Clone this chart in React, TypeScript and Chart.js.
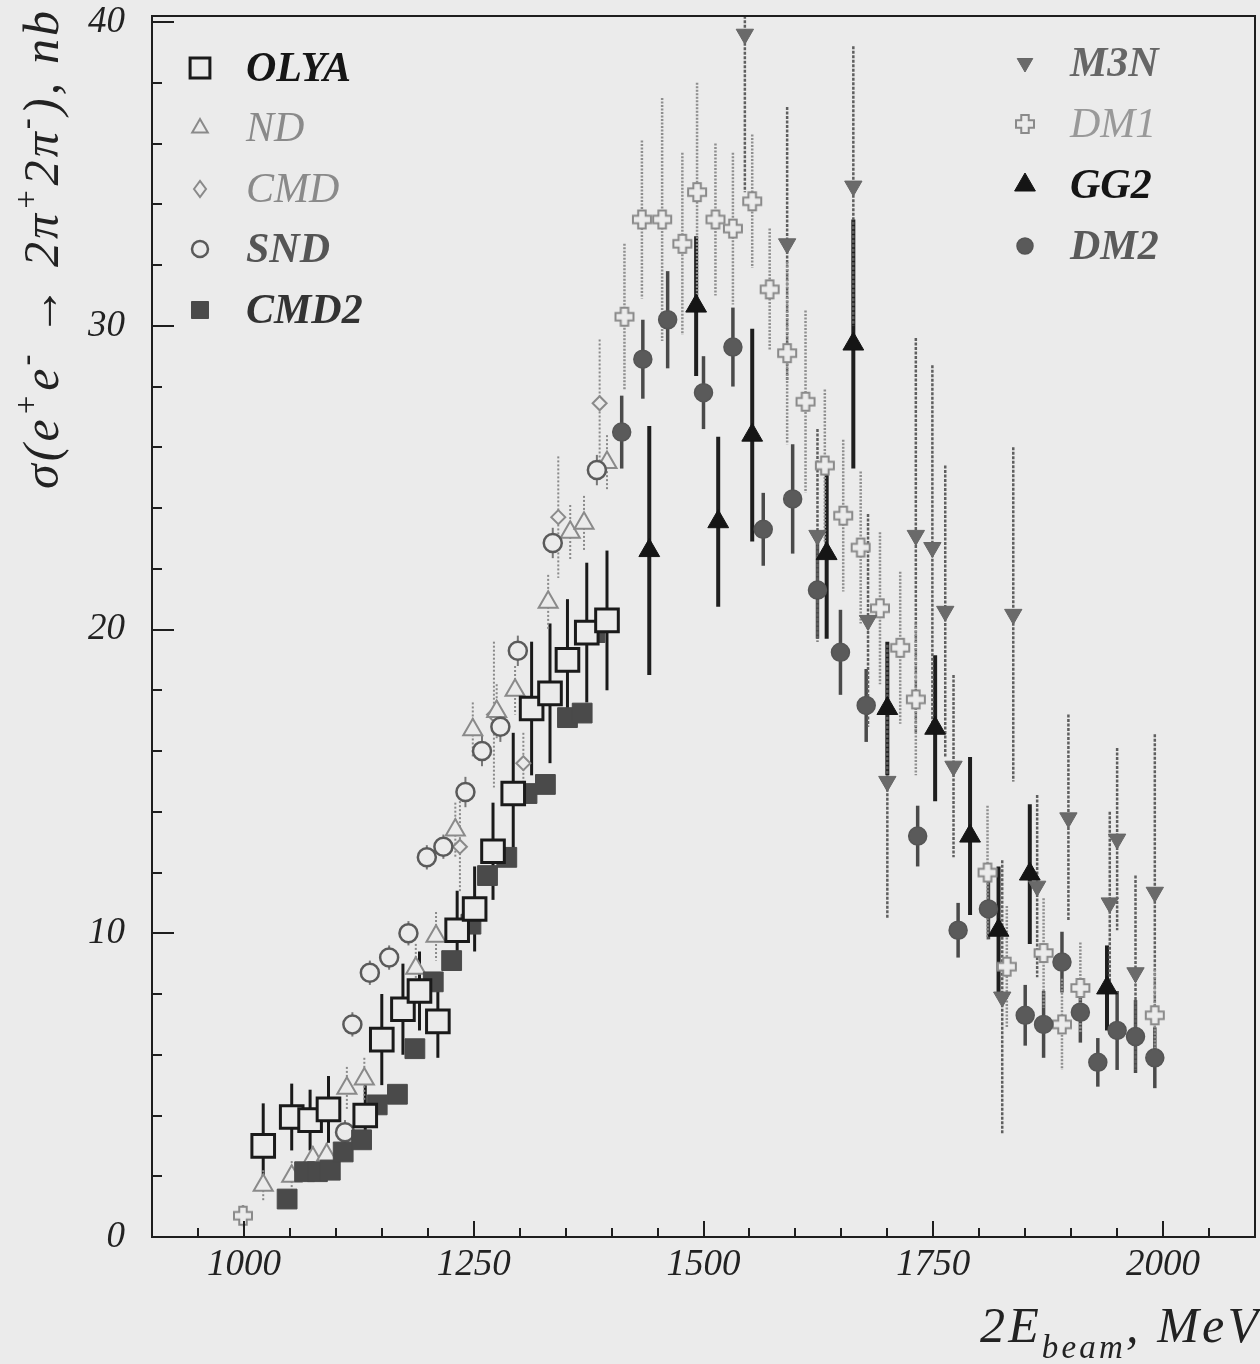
import React, { useEffect, useRef } from "react";
import { Chart, registerables } from "chart.js";

Chart.register(...registerables);

const BG = "#ebebeb";
const FONT = "'Liberation Serif', 'Times New Roman', serif";

const xTickValues = [1000, 1250, 1500, 1750, 2000];
const yTickValues = [0, 10, 20, 30, 40];

const olyaE = [1021, 1052, 1072, 1092, 1132, 1150, 1173, 1191, 1211, 1232, 1251, 1271, 1293, 1313, 1333, 1352, 1373, 1395];
const olyaV = [3.0, 3.95, 3.85, 4.2, 4.0, 6.5, 7.5, 8.1, 7.1, 10.1, 10.8, 12.7, 14.6, 17.4, 17.9, 19.0, 19.9, 20.3];
const olyaErr = [1.4, 1.1, 1.0, 1.1, 1.0, 1.5, 1.5, 1.3, 1.2, 1.3, 1.4, 1.6, 2.0, 2.2, 2.3, 2.0, 2.3, 2.3];

const ndE = [1021, 1052, 1075, 1090, 1112, 1131, 1187, 1209, 1230, 1249, 1275, 1295, 1331, 1355, 1370, 1395];
const ndV = [1.7, 2.0, 2.6, 2.7, 4.9, 5.2, 8.85, 9.9, 13.4, 16.7, 17.3, 18.0, 20.9, 23.2, 23.5, 25.5];
const ndErr = [0.5, 0.5, 0.4, 0.4, 0.7, 0.7, 0.8, 0.8, 0.9, 0.9, 0.9, 0.8, 0.9, 0.9, 0.9, 0.9];

const cmdE = [1235, 1272, 1304, 1342, 1387];
const cmdV = [12.85, 17.2, 15.6, 23.7, 27.45];
const cmdErr = [1.5, 2.4, 1.0, 2.0, 2.1];

const sndE = [1110, 1118, 1137, 1158, 1179, 1199, 1217, 1241, 1259, 1279, 1298, 1336, 1384];
const sndV = [3.45, 7.0, 8.7, 9.2, 10.0, 12.5, 12.85, 14.65, 16.0, 16.8, 19.3, 22.85, 25.25];
const sndErr = [0.4, 0.4, 0.4, 0.4, 0.4, 0.4, 0.4, 0.5, 0.5, 0.5, 0.5, 0.5, 0.5];

const cmd2E = [1047, 1066, 1080, 1094, 1108, 1128, 1145, 1167, 1186, 1206, 1226, 1247, 1265, 1286, 1308, 1328, 1352, 1368, 1382];
const cmd2V = [1.25, 2.15, 2.15, 2.2, 2.8, 3.2, 4.35, 4.7, 6.2, 8.4, 9.1, 10.3, 11.9, 12.5, 14.6, 14.9, 17.1, 17.25, 19.9];
const cmd2Err = [0.2, 0.25, 0.25, 0.25, 0.3, 0.3, 0.3, 0.3, 0.3, 0.3, 0.3, 0.3, 0.3, 0.3, 0.3, 0.3, 0.3, 0.3, 0.3];

const m3nE = [1545, 1591, 1624, 1663, 1679, 1700, 1731, 1749, 1763, 1772, 1825, 1837, 1863, 1897, 1942, 1950, 1970, 1991];
const m3nV = [39.6, 32.7, 23.1, 34.6, 20.3, 15.0, 23.1, 22.7, 20.6, 15.5, 7.9, 20.5, 11.55, 13.8, 11.0, 13.1, 8.7, 11.35];
const m3nErr = [5.2, 4.5, 3.5, 4.6, 3.5, 4.5, 6.5, 6.0, 4.8, 3.0, 4.5, 5.5, 3.0, 3.4, 3.0, 3.0, 3.2, 5.2];

const dm1E = [999, 1414, 1433, 1455, 1477, 1493, 1513, 1532, 1553, 1572, 1591, 1611, 1632, 1652, 1671, 1692, 1714, 1731, 1809, 1830, 1870, 1890, 1910, 1991];
const dm1V = [0.7, 30.3, 33.5, 33.5, 32.7, 34.4, 33.5, 33.2, 34.1, 31.2, 29.1, 27.5, 25.4, 23.75, 22.7, 20.7, 19.4, 17.7, 12.0, 8.9, 9.35, 7.0, 8.2, 7.3];
const dm1Err = [0.35, 2.4, 2.6, 4.0, 3.0, 3.6, 2.5, 2.5, 2.2, 2.0, 3.0, 3.0, 2.5, 2.5, 2.5, 2.5, 2.5, 2.5, 2.2, 2.0, 1.8, 1.5, 1.5, 1.5];

const gg2E = [1441, 1492, 1516, 1553, 1634, 1663, 1700, 1752, 1790, 1821, 1855, 1939];
const gg2V = [22.6, 30.65, 23.55, 26.4, 22.5, 29.4, 17.4, 16.75, 13.2, 10.1, 11.95, 8.2];
const gg2Err = [4.1, 2.3, 2.8, 3.5, 2.8, 4.1, 2.2, 2.4, 2.6, 2.1, 2.3, 1.4];

const dm2E = [1411, 1434, 1461, 1500, 1532, 1565, 1597, 1624, 1649, 1677, 1733, 1777, 1810, 1850, 1870, 1890, 1910, 1929, 1950, 1970, 1991];
const dm2V = [26.5, 28.9, 30.2, 27.8, 29.3, 23.3, 24.3, 21.3, 19.25, 17.5, 13.2, 10.1, 10.8, 7.3, 7.0, 9.05, 7.4, 5.75, 6.8, 6.6, 5.9];
const dm2Err = [1.2, 1.3, 1.6, 1.2, 1.3, 1.2, 1.8, 1.6, 1.4, 1.2, 1.0, 0.9, 1.0, 1.0, 1.1, 1.0, 1.0, 0.8, 1.3, 1.2, 1.0];

const leftLegendLabels = ["OLYA", "ND", "CMD", "SND", "CMD2"];
const rightLegendLabels = ["M3N", "DM1", "GG2", "DM2"];

function makeCross(size: number, stroke: string, fill: string, lw: number) {
  const c = document.createElement("canvas");
  c.width = size;
  c.height = size;
  const ctx = c.getContext("2d")!;
  const h = size / 2 - lw;
  const a = size * 0.17;
  const cx = size / 2;
  const pts = [[-a, -h], [a, -h], [a, -a], [h, -a], [h, a], [a, a], [a, h], [-a, h], [-a, a], [-h, a], [-h, -a], [-a, -a]];
  ctx.beginPath();
  pts.forEach(([px, py], i) => (i ? ctx.lineTo(cx + px, cx + py) : ctx.moveTo(cx + px, cx + py)));
  ctx.closePath();
  ctx.fillStyle = fill;
  ctx.fill();
  ctx.strokeStyle = stroke;
  ctx.lineWidth = lw;
  ctx.stroke();
  return c;
}

function drawMarker(ctx: CanvasRenderingContext2D, s: any, x: number, y: number) {
  const r = s.legendR;
  ctx.save();
  ctx.lineWidth = s.bw;
  ctx.strokeStyle = s.border;
  ctx.fillStyle = s.fill;
  ctx.setLineDash([]);
  ctx.beginPath();
  if (s.style === "rect") {
    const h = r * Math.SQRT1_2;
    ctx.rect(x - h, y - h, 2 * h, 2 * h);
  } else if (s.style === "triangle") {
    const sgn = s.rot ? -1 : 1;
    ctx.moveTo(x, y - sgn * r);
    ctx.lineTo(x + r * Math.sin(Math.PI / 3), y + sgn * r * 0.5);
    ctx.lineTo(x - r * Math.sin(Math.PI / 3), y + sgn * r * 0.5);
    ctx.closePath();
  } else if (s.style === "rectRot") {
    ctx.moveTo(x - r * 0.75, y);
    ctx.lineTo(x, y - r);
    ctx.lineTo(x + r * 0.75, y);
    ctx.lineTo(x, y + r);
    ctx.closePath();
  } else if (s.style === "circle") {
    ctx.arc(x, y, r, 0, Math.PI * 2);
  } else {
    const img = s.style as HTMLCanvasElement;
    ctx.drawImage(img, x - img.width / 2, y - img.height / 2);
    ctx.restore();
    return;
  }
  ctx.fill();
  ctx.stroke();
  ctx.restore();
}

type Seg = { t: string; k?: "sup" | "sub" };

function drawRich(
  ctx: CanvasRenderingContext2D,
  segs: Seg[],
  x: number,
  y: number,
  size: number,
  targetLen: number,
  align: "center" | "right"
) {
  const chars: { c: string; font: string; dy: number; w: number }[] = [];
  segs.forEach((s) => {
    const fs = s.k ? Math.round(size * 0.66) : size;
    const font = `italic ${fs}px ${FONT}`;
    const dy = s.k === "sup" ? -size * 0.42 : s.k === "sub" ? size * 0.32 : 0;
    for (const c of s.t) {
      ctx.font = font;
      chars.push({ c, font, dy, w: ctx.measureText(c).width });
    }
  });
  const natural = chars.reduce((a, b) => a + b.w, 0);
  const sp = chars.length > 1 ? Math.max(0, (targetLen - natural) / (chars.length - 1)) : 0;
  const total = natural + sp * (chars.length - 1);
  let cx = align === "center" ? x - total / 2 : x - total;
  ctx.textAlign = "left";
  ctx.textBaseline = "alphabetic";
  chars.forEach((ch) => {
    ctx.font = ch.font;
    ctx.fillText(ch.c, cx, y + ch.dy);
    cx += ch.w + sp;
  });
}

export default function App() {
  const ref = useRef<HTMLCanvasElement>(null);

  useEffect(() => {
    const canvas = ref.current;
    if (!canvas) return;
    const crossImg = makeCross(22, "#8a8a8a", BG, 2);

    const series: any[] = [
      { label: "OLYA", E: olyaE, V: olyaV, err: olyaErr, style: "rect", r: 16, legendR: 14, rot: 0, border: "#1a1a1a", fill: BG, bw: 3, errColor: "#1a1a1a", errWidth: 3, errDash: [] },
      { label: "GG2", E: gg2E, V: gg2V, err: gg2Err, style: "triangle", r: 12, legendR: 12, rot: 0, border: "#151515", fill: "#151515", bw: 1, errColor: "#1e1e1e", errWidth: 4, errDash: [] },
      { label: "CMD2", E: cmd2E, V: cmd2V, err: cmd2Err, style: "rect", r: 14, legendR: 12, rot: 0, border: "#4a4a4a", fill: "#4a4a4a", bw: 1, errColor: "#444", errWidth: 2.5, errDash: [] },
      { label: "DM2", E: dm2E, V: dm2V, err: dm2Err, style: "circle", r: 9, legendR: 8, rot: 0, border: "#555", fill: "#5a5a5a", bw: 1.5, errColor: "#4a4a4a", errWidth: 3.5, errDash: [] },
      { label: "SND", E: sndE, V: sndV, err: sndErr, style: "circle", r: 9, legendR: 8, rot: 0, border: "#5a5a5a", fill: BG, bw: 2.5, errColor: "#777", errWidth: 2, errDash: [] },
      { label: "ND", E: ndE, V: ndV, err: ndErr, style: "triangle", r: 11, legendR: 9, rot: 0, border: "#8a8a8a", fill: BG, bw: 2, errColor: "#8a8a8a", errWidth: 2, errDash: [2, 2] },
      { label: "CMD", E: cmdE, V: cmdV, err: cmdErr, style: "rectRot", r: 7, legendR: 8, rot: 0, border: "#8a8a8a", fill: BG, bw: 2, errColor: "#8a8a8a", errWidth: 2, errDash: [2, 2] },
      { label: "M3N", E: m3nE, V: m3nV, err: m3nErr, style: "triangle", r: 10, legendR: 9, rot: 180, border: "#666", fill: "#6a6a6a", bw: 1, errColor: "#5f5f5f", errWidth: 2.5, errDash: [3, 1.5] },
      { label: "DM1", E: dm1E, V: dm1V, err: dm1Err, style: crossImg, r: 10, legendR: 10, rot: 0, border: "#8a8a8a", fill: BG, bw: 2, errColor: "#8f8f8f", errWidth: 2.5, errDash: [2, 1.5] },
    ];

    const byLabel: Record<string, any> = {};
    series.forEach((s) => (byLabel[s.label] = s));

    const datasets = series.map((s) => ({
      type: "scatter" as const,
      label: s.label,
      data: s.E.map((x: number, i: number) => ({ x, y: s.V[i] })),
      errs: s.err,
      pointStyle: s.style,
      pointRadius: s.r,
      pointRotation: s.rot,
      pointBorderColor: s.border,
      pointBackgroundColor: s.fill,
      pointBorderWidth: s.bw,
      showLine: false,
    }));

    const decor = {
      id: "decor",
      beforeDraw(chart: any) {
        const ctx = chart.ctx;
        ctx.save();
        ctx.fillStyle = BG;
        ctx.fillRect(0, 0, chart.width, chart.height);
        ctx.restore();
      },
      beforeDatasetsDraw(chart: any) {
        const ctx = chart.ctx;
        const ys = chart.scales.y;
        const a = chart.chartArea;
        ctx.save();
        ctx.beginPath();
        ctx.rect(a.left, a.top, a.right - a.left, a.bottom - a.top);
        ctx.clip();
        chart.data.datasets.forEach((ds: any, di: number) => {
          const s = series[di];
          const meta = chart.getDatasetMeta(di);
          ctx.strokeStyle = s.errColor;
          ctx.lineWidth = s.errWidth;
          ctx.setLineDash(s.errDash);
          ds.data.forEach((p: any, j: number) => {
            const el = meta.data[j];
            const e = ds.errs[j];
            ctx.beginPath();
            ctx.moveTo(el.x, ys.getPixelForValue(p.y + e));
            ctx.lineTo(el.x, ys.getPixelForValue(p.y - e));
            ctx.stroke();
          });
        });
        ctx.restore();
      },
      afterDraw(chart: any) {
        const ctx = chart.ctx;
        const a = chart.chartArea;
        const xs = chart.scales.x;
        const ys = chart.scales.y;
        ctx.save();
        ctx.strokeStyle = "#1e1e1e";
        ctx.lineWidth = 2;
        ctx.setLineDash([]);
        ctx.strokeRect(a.left, a.top, a.right - a.left, a.bottom - a.top);
        ctx.beginPath();
        for (let v = 2; v < 40.2; v += 2) {
          const len = v % 10 === 0 ? 22 : 10;
          const py = Math.round(ys.getPixelForValue(v));
          ctx.moveTo(a.left, py);
          ctx.lineTo(a.left + len, py);
        }
        for (let e = 950; e < 2100; e += 50) {
          const len = e % 250 === 0 ? 16 : 9;
          const px = Math.round(xs.getPixelForValue(e));
          ctx.moveTo(px, a.bottom);
          ctx.lineTo(px, a.bottom - len);
        }
        ctx.stroke();

        const leftStyle: Record<string, [string, boolean]> = {
          OLYA: ["#151515", true], ND: ["#8a8a8a", false], CMD: ["#8a8a8a", false], SND: ["#555", true], CMD2: ["#333", true],
        };
        const rightStyle: Record<string, [string, boolean]> = {
          M3N: ["#666", true], DM1: ["#999", false], GG2: ["#151515", true], DM2: ["#5a5a5a", true],
        };
        const leftY = [68, 128, 189, 249, 310];
        const rightY = [63, 124, 185, 246];
        ctx.textBaseline = "middle";
        ctx.textAlign = "left";
        leftLegendLabels.forEach((lab, i) => {
          drawMarker(ctx, byLabel[lab], 200, leftY[i]);
          const [col, bold] = leftStyle[lab];
          ctx.font = `italic ${bold ? "bold " : ""}42px ${FONT}`;
          ctx.fillStyle = col;
          ctx.fillText(lab, 246, leftY[i] + 2);
        });
        rightLegendLabels.forEach((lab, i) => {
          drawMarker(ctx, byLabel[lab], 1025, rightY[i]);
          const [col, bold] = rightStyle[lab];
          ctx.font = `italic ${bold ? "bold " : ""}42px ${FONT}`;
          ctx.fillStyle = col;
          ctx.fillText(lab, 1070, rightY[i] + 2);
        });

        ctx.fillStyle = "#222";
        ctx.save();
        ctx.translate(58, 250);
        ctx.rotate(-Math.PI / 2);
        drawRich(
          ctx,
          [
            { t: "σ(e" }, { t: "+", k: "sup" }, { t: "e" }, { t: "-", k: "sup" },
            { t: " → 2π" }, { t: "+", k: "sup" }, { t: "2π" }, { t: "-", k: "sup" }, { t: "), nb" },
          ],
          0, 0, 50, 478, "center"
        );
        ctx.restore();
        drawRich(ctx, [{ t: "2E" }, { t: "beam", k: "sub" }, { t: ", MeV" }], 1258, 1342, 50, 278, "right");
        ctx.restore();
      },
    };

    const zeroPad = (s: any) => {
      s.paddingTop = 0;
      s.paddingBottom = 0;
      s.paddingLeft = 0;
      s.paddingRight = 0;
    };

    const chart = new Chart(canvas, {
      type: "scatter",
      data: { datasets } as any,
      options: {
        responsive: false,
        animation: false,
        events: [],
        layout: { autoPadding: false, padding: { top: 16, right: 5, left: 0, bottom: 0 } },
        plugins: { legend: { display: false }, tooltip: { enabled: false } },
        scales: {
          x: {
            type: "linear",
            min: 900,
            max: 2100,
            afterBuildTicks: (axis: any) => {
              axis.ticks = xTickValues.map((v) => ({ value: v }));
            },
            afterFit: (s: any) => {
              s.height = 127;
              zeroPad(s);
            },
            grid: { display: false, drawTicks: false },
            border: { display: false },
            ticks: {
              font: { family: FONT, size: 37, style: "italic" },
              color: "#222",
              padding: 6,
              maxRotation: 0,
              autoSkip: false,
              callback: (v: any) => String(v),
            },
          },
          y: {
            type: "linear",
            min: 0,
            max: 40.2,
            afterBuildTicks: (axis: any) => {
              axis.ticks = yTickValues.map((v) => ({ value: v }));
            },
            afterFit: (s: any) => {
              s.width = 152;
              zeroPad(s);
            },
            grid: { display: false, drawTicks: false },
            border: { display: false },
            ticks: {
              font: { family: FONT, size: 37, style: "italic" },
              color: "#222",
              padding: 27,
              autoSkip: false,
              callback: (v: any) => String(v),
            },
          },
        },
      } as any,
      plugins: [decor],
    });

    return () => chart.destroy();
  }, []);

  return (
    <div style={{ position: "absolute", left: 0, top: 0, width: 1260, height: 1364, background: BG }}>
      <canvas ref={ref} width={1260} height={1364} style={{ display: "block", width: 1260, height: 1364 }} />
    </div>
  );
}
